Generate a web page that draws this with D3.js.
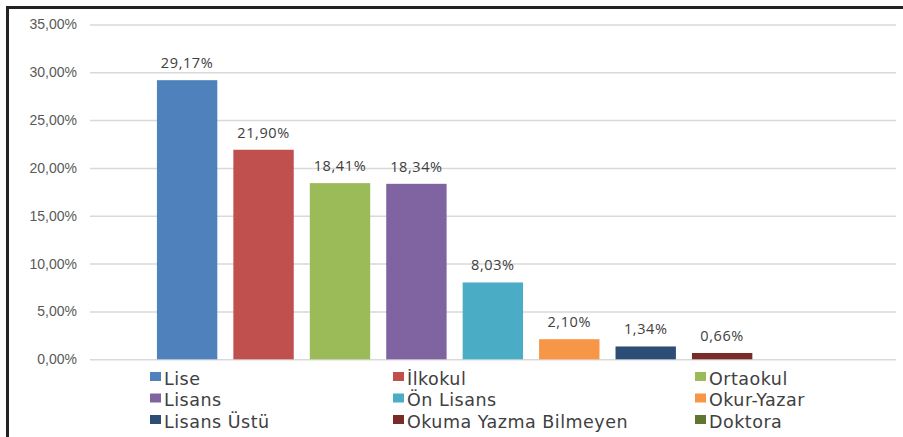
<!DOCTYPE html>
<html>
<head>
<meta charset="utf-8">
<script src="https://cdn.jsdelivr.net/npm/d3@7"></script>
<style>
  html, body { margin: 0; padding: 0; background: #fff; }
  svg { display: block; font-family: "Open Sans", sans-serif; }
</style>
</head>
<body>
<div id="chart"></div>
<script>
// egitim durumu (education level), shares in percent
var categories = ["Lise", "İlkokul", "Ortaokul", "Lisans", "Ön Lisans", "Okur-Yazar", "Lisans Üstü", "Okuma Yazma Bilmeyen", "Doktora"];
var values = [29.17, 21.90, 18.41, 18.34, 8.03, 2.10, 1.34, 0.66, 0];
var colors = ["#4f81bd", "#c0504d", "#9bbb59", "#8064a2", "#4bacc6", "#f79646", "#2c4d75", "#772c2a", "#5f7530"];
var yTicks = [0, 5, 10, 15, 20, 25, 30, 35];

var width = 903, height = 437;

var svg = d3.select("#chart")
    .append("svg")
    .attr("width", width)
    .attr("height", height);

var fmt = function(v) { return v.toFixed(2).replace(".", ",") + "%"; };

var xScale = d3.scaleBand()
    .domain(categories)
    .range([148.9, 836.8])
    .paddingInner(0.21)
    .paddingOuter(0.105);

var yScale = d3.scaleLinear()
    .domain([0, 35])
    .range([359.3, 24.4]);

var color = d3.scaleOrdinal().domain(categories).range(colors);

// grid lines + labels
var yAxis = d3.axisLeft(yScale)
    .tickValues(yTicks)
    .tickSize(-(896 - 90))
    .tickPadding(13)
    .tickFormat(fmt);

var gy = svg.append("g")
    .attr("transform", "translate(90,0)")
    .call(yAxis);
gy.select(".domain").remove();
gy.selectAll(".tick line")
    .attr("stroke", "#d9d9d9")
    .attr("stroke-width", 1.5);
gy.selectAll(".tick text")
    .attr("fill", "#595959")
    .style("font-size", "14px");

// bars
svg.selectAll(".bar")
    .data(values)
    .enter()
    .append("rect")
    .attr("class", "bar")
    .attr("x", (d, i) => xScale(categories[i]))
    .attr("width", xScale.bandwidth())
    .attr("y", (d) => yScale(d))
    .attr("height", (d) => yScale(0) - yScale(d))
    .attr("fill", (d, i) => color(categories[i]));

// value labels
svg.selectAll(".lbl")
    .data(values.filter((d) => d > 0))
    .enter()
    .append("text")
    .attr("class", "lbl")
    .attr("x", (d, i) => xScale(categories[i]) + xScale.bandwidth() / 2)
    .attr("y", (d) => yScale(d) - 12)
    .attr("text-anchor", "middle")
    .attr("fill", "#404040")
    .style("font-size", "14.5px")
    .style("letter-spacing", "0.6px")
    .text(fmt);

// legend, 3 columns
var colX = [150, 393, 695];
var rowY = [372, 393.5, 415];

var leg = svg.selectAll(".leg")
    .data(categories)
    .enter()
    .append("g")
    .attr("class", "leg")
    .attr("transform", (d, i) => "translate(" + colX[i % 3] + "," + rowY[Math.floor(i / 3)] + ")");

leg.append("rect")
    .attr("width", 11)
    .attr("height", 9)
    .attr("fill", (d) => color(d));

leg.append("text")
    .attr("x", 14)
    .attr("y", 12.5)
    .attr("fill", "#404040")
    .style("font-family", "'DejaVu Sans', sans-serif")
    .style("font-size", "17.5px")
    .style("letter-spacing", "0.5px")
    .text((d) => d);

// frame (top and left edges only are visible)
svg.append("line")
    .attr("x1", 6).attr("x2", width)
    .attr("y1", 7.5).attr("y2", 7.5)
    .attr("stroke", "#222").attr("stroke-width", 3);
svg.append("line")
    .attr("x1", 7.5).attr("x2", 7.5)
    .attr("y1", 6).attr("y2", height)
    .attr("stroke", "#222").attr("stroke-width", 3);
</script>
</body>
</html>
